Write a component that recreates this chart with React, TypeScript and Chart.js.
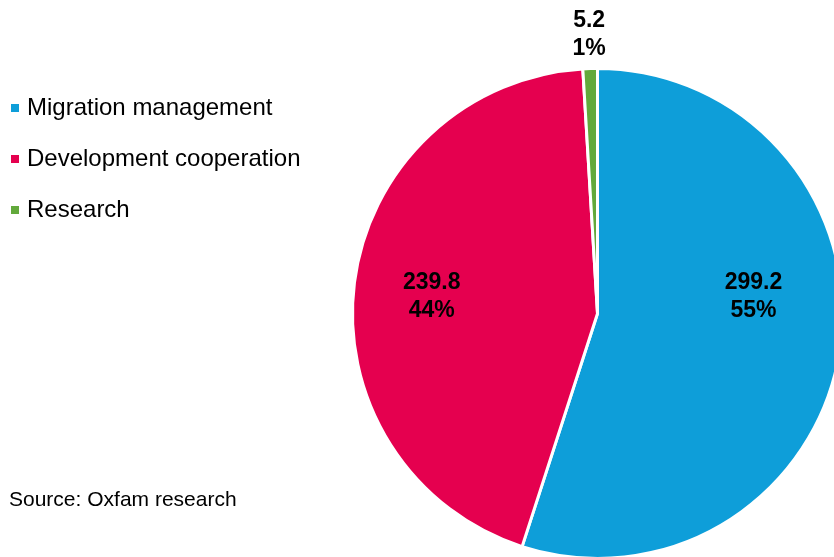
import React, { useEffect, useRef } from "react";
import { Chart, registerables } from "chart.js";

Chart.register(...registerables);

const categories = ["Migration management", "Development cooperation", "Research"];
const values = [299.2, 239.8, 5.2];
const percentLabels = ["55%", "44%", "1%"];
const colors = ["#0E9ED9", "#E5004F", "#62A93B"];
const sourceText = "Source: Oxfam research";

// label placement (angle shift in degrees from the slice mid-angle, radius fraction)
const labelAngleShift = [-15, -1.5, 0];
const labelRadius = [0.64, 0.68, 1.14];

const FONT = "'Liberation Sans', Arial, sans-serif";

const overlayPlugin = {
  id: "overlay",
  afterDatasetsDraw(chart: any) {
    const ctx = chart.ctx;
    const meta = chart.getDatasetMeta(0);
    ctx.save();
    ctx.fillStyle = "#000";
    ctx.textAlign = "center";
    ctx.textBaseline = "middle";
    ctx.font = `bold 23px ${FONT}`;
    meta.data.forEach((arc: any, i: number) => {
      const p = arc.getProps(["x", "y", "startAngle", "endAngle", "outerRadius"], true);
      const mid = (p.startAngle + p.endAngle) / 2 + (labelAngleShift[i] * Math.PI) / 180;
      const r = p.outerRadius * labelRadius[i];
      const cx = p.x + Math.cos(mid) * r;
      const cy = p.y + Math.sin(mid) * r;
      ctx.fillText(values[i].toFixed(1), cx, cy - 14);
      ctx.fillText(percentLabels[i], cx, cy + 14);
    });
    // legend
    ctx.textAlign = "left";
    ctx.textBaseline = "alphabetic";
    ctx.font = `24px ${FONT}`;
    categories.forEach((c, i) => {
      const baseline = 115 + i * 51;
      ctx.fillStyle = colors[i];
      ctx.fillRect(11, baseline - 11, 8, 8);
      ctx.fillStyle = "#000";
      ctx.fillText(c, 27, baseline);
    });
    ctx.font = `21px ${FONT}`;
    ctx.fillText(sourceText, 9, 506);
    ctx.restore();
  },
};

export default function App() {
  const ref = useRef<HTMLCanvasElement>(null);
  useEffect(() => {
    if (!ref.current) return;
    const chart = new Chart(ref.current, {
      type: "pie",
      data: {
        labels: categories,
        datasets: [
          {
            data: values,
            backgroundColor: colors,
            borderColor: "#ffffff",
            borderWidth: 3,
          },
        ],
      },
      options: {
        responsive: false,
        animation: false,
        layout: { padding: { left: 351, top: 67, right: 6, bottom: 0 } },
        plugins: {
          legend: { display: false },
          tooltip: { enabled: false },
        },
      },
      plugins: [overlayPlugin],
    });
    return () => chart.destroy();
  }, []);
  return (
    <div style={{ position: "fixed", left: 0, top: 0, width: 834, height: 557, overflow: "hidden", background: "#fff" }}>
      <canvas ref={ref} width={850} height={560} style={{ width: 850, height: 560, display: "block" }} />
    </div>
  );
}
